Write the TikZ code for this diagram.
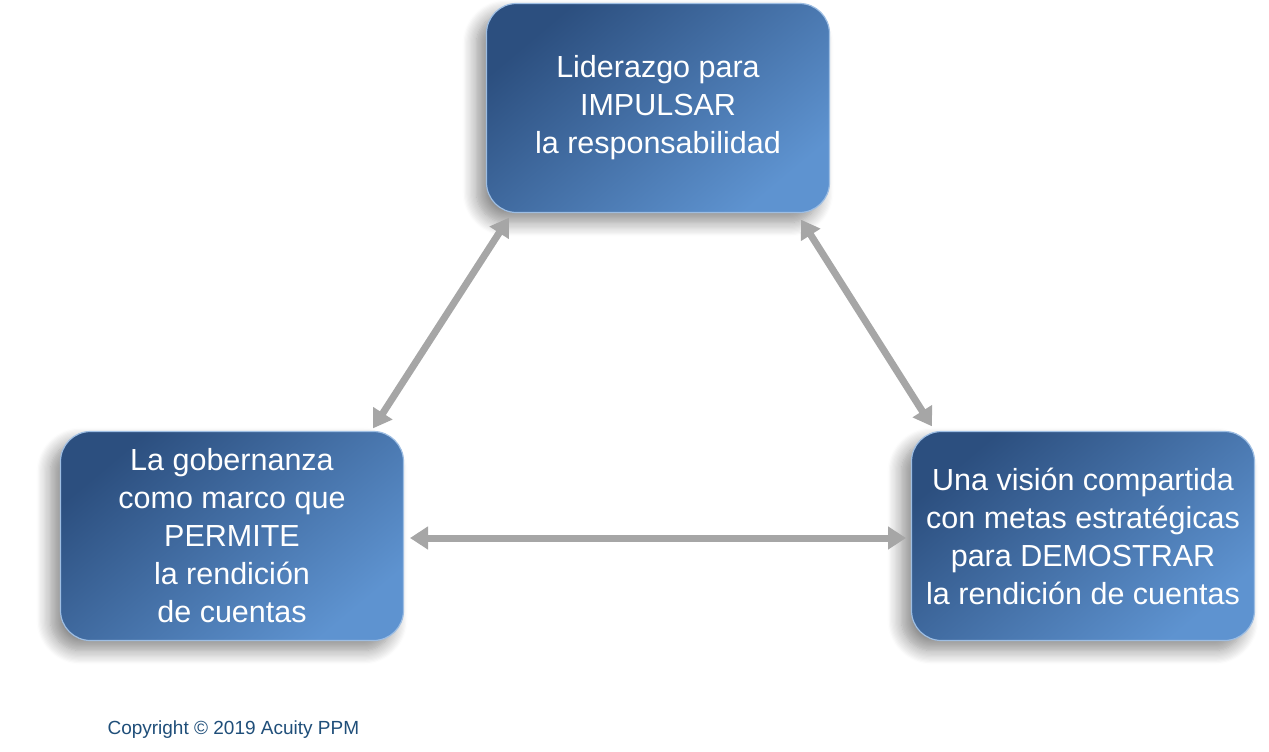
\documentclass[tikz,border=0pt]{standalone}
\usepackage{fontspec}
\setmainfont{Liberation Sans}
\usetikzlibrary{shadows.blur,arrows.meta}
\definecolor{bdark}{HTML}{2C4F7F}
\definecolor{blight}{HTML}{5E93D0}
\definecolor{arr}{HTML}{A6A6A6}
\definecolor{cpy}{HTML}{1F4E79}
\tikzset{
 box/.style={rectangle, rounded corners=30pt, minimum width=343pt, minimum height=209pt,
  draw=blight!60!white, line width=1.2pt, top color=bdark, bottom color=blight, shading angle=40,
  text=white, font=\fontsize{30.5}{38}\selectfont, align=center, inner sep=2pt,
  blur shadow={shadow xshift=-10pt, shadow yshift=-10pt, shadow blur steps=12, shadow blur radius=14pt, shadow opacity=45}},
 link/.style={arr, line width=7pt, {Triangle[length=18pt,width=22pt]}-{Triangle[length=18pt,width=22pt]}, shorten <=2pt, shorten >=2pt}
}
\begin{document}
\begin{tikzpicture}[x=1pt,y=-1pt]
\useasboundingbox (0,0) rectangle (1269,752);
\node[box] (top) at (658,108) {Liderazgo para\\IMPULSAR\\ la responsabilidad};
\node[box] (left) at (232,536) {La gobernanza\\como marco que\\PERMITE\\la rendición\\ de cuentas};
\node[box] (right) at (1083,536) {Una visión compartida\\con metas estratégicas\\para DEMOSTRAR\\ la rendición de cuentas};
\coordinate (a1) at (510,216); \coordinate (a2) at (372,430);
\coordinate (b1) at (800,218); \coordinate (b2) at (933,428);
\coordinate (c1) at (408,538); \coordinate (c2) at (908,538);
\draw[link] (a1) -- (a2);
\draw[link] (b1) -- (b2);
\draw[link] (c1) -- (c2);
\node[anchor=west, text=cpy, font=\fontsize{19}{22}\selectfont] (copy) at (104,730) {Copyright © 2019 Acuity PPM};
\end{tikzpicture}
\end{document}
